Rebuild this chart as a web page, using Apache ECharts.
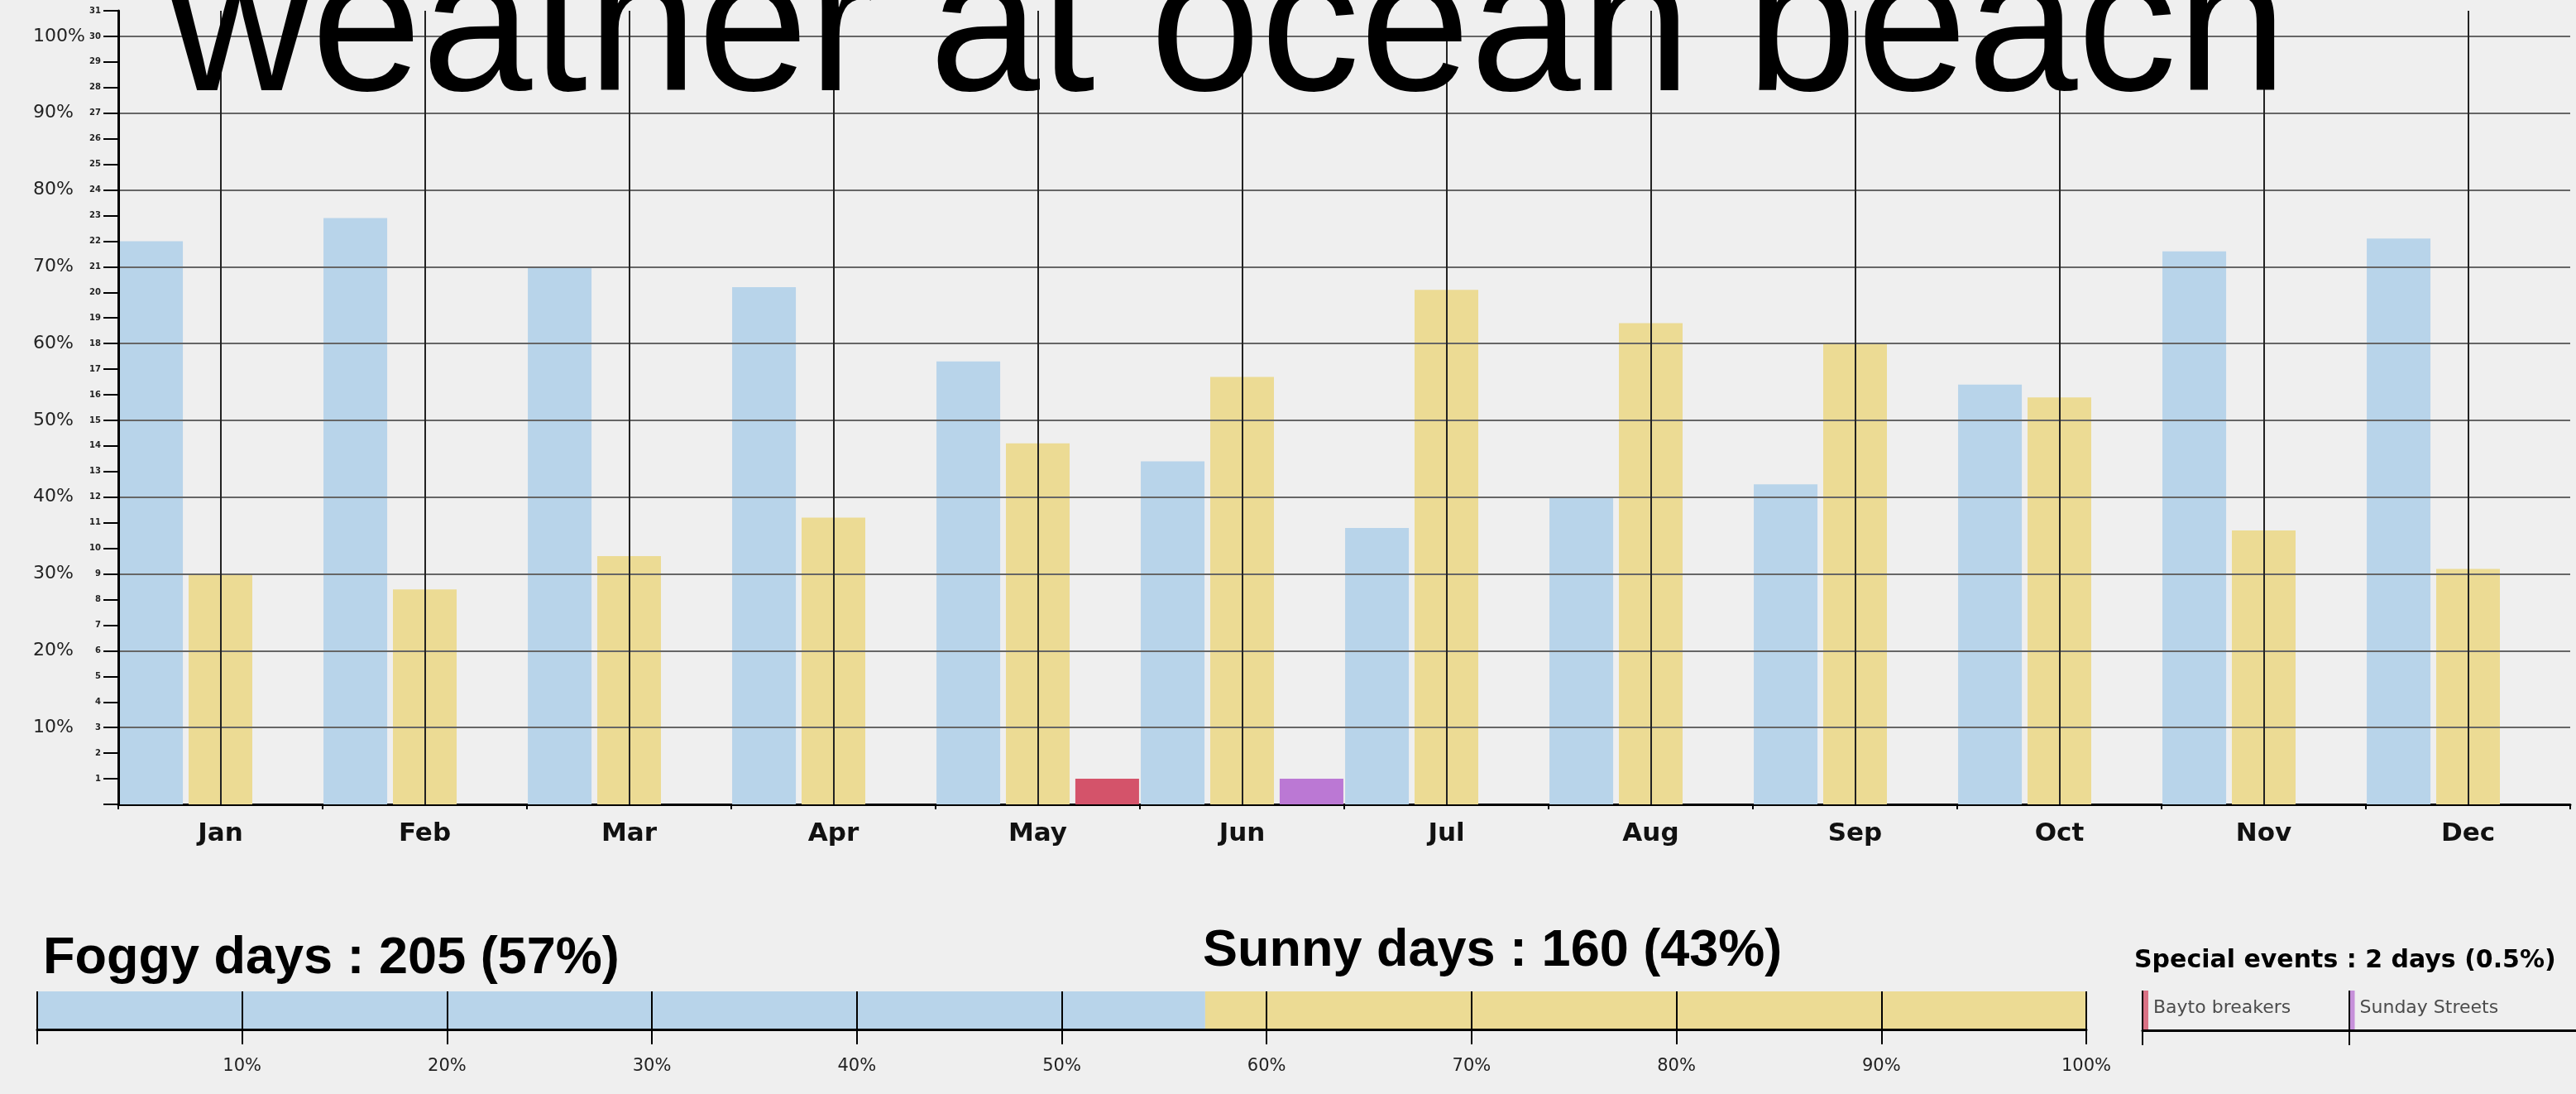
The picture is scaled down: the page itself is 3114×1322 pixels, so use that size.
<!DOCTYPE html>
<html><head><meta charset="utf-8">
<script src="https://cdn.jsdelivr.net/npm/echarts@6/dist/echarts.min.js"></script>
<style>html,body{margin:0;padding:0;background:#efefef}#c{width:3114px;height:1322px}</style>
</head><body><div id="c"></div>
<script>
// ---- data ----
const titleText = 'weather at ocean beach';
const months = ['Jan','Feb','Mar','Apr','May','Jun','Jul','Aug','Sep','Oct','Nov','Dec'];
const foggyDays = [22, 22.9, 21, 20.2, 17.3, 13.4, 10.8, 12, 12.5, 16.4, 21.6, 22.1];
const sunnyDays = [9, 8.4, 9.7, 11.2, 14.1, 16.7, 20.1, 18.8, 18, 15.9, 10.7, 9.2];
const eventNames = ['Bayto breakers', 'Sunday Streets'];
const eventMonths = ['May', 'Jun'];
const eventDays = [1, 1];
const daysMax = 31;          // top of the day scale
const daysPerHundred = 30;   // 30 days = 100%
const summaryNames = ['Foggy days', 'Sunny days'];
const summaryDays = [205, 160];
const summaryPct = [57, 43];
const specialTotalDays = 2;
const specialPct = 0.5;

// ---- styles ----
const BLUE = '#b8d4ea', YELLOW = '#ecdb94';
const EVENT_COLORS = ['#d4536a', '#bb78d4'];
const SANS = '"Liberation Sans", Arial, sans-serif';
const DJ = '"DejaVu Sans", Verdana, sans-serif';

const specialData = months.map(m => {
  const i = eventMonths.indexOf(m);
  return i < 0 ? null : { value: eventDays[i], itemStyle: { color: EVENT_COLORS[i] } };
});

const chart = echarts.init(document.getElementById('c'), null, { renderer: 'canvas' });
chart.setOption({
  backgroundColor: '#efefef',
  animation: false,
  title: {
    text: titleText, left: 203, top: -77, padding: 0,
    textStyle: { fontFamily: SANS, fontSize: 240, fontWeight: 'normal', color: '#000' }
  },
  graphic: [
    { type: 'text', left: 52, top: 1127, style: { text: summaryNames[0] + ' : ' + summaryDays[0] + ' (' + summaryPct[0] + '%)', font: 'bold 63px ' + SANS, fill: '#000' } },
    { type: 'text', left: 1454, top: 1118, style: { text: summaryNames[1] + ' : ' + summaryDays[1] + ' (' + summaryPct[1] + '%)', font: 'bold 63px ' + SANS, fill: '#000' } },
    { type: 'text', left: 2580, top: 1146, style: { text: 'Special events : ' + specialTotalDays + ' days (' + specialPct + '%)', font: 'bold 30px ' + DJ, fill: '#000' } }
  ],
  grid: [
    { left: 143, right: 7, top: 13, bottom: 350 },
    { left: 45, width: 2477, top: 1198, height: 46 },
    { left: 2590, right: 0, top: 1197, height: 48 }
  ],
  xAxis: [
    { type: 'category', data: months, gridIndex: 0,
      axisLine: { lineStyle: { color: '#000', width: 3 } },
      axisTick: { show: true, length: 6, lineStyle: { color: '#000', width: 2 } },
      axisLabel: { fontFamily: DJ, fontWeight: 'bold', fontSize: 31, color: '#111', margin: 20 },
      splitLine: { show: false } },
    { type: 'value', gridIndex: 1, min: 0, max: 100, interval: 10, z: 3,
      axisLine: { show: true, lineStyle: { color: '#000', width: 3 } },
      axisTick: { show: true, length: 18, lineStyle: { color: '#000', width: 2 } },
      axisLabel: { fontFamily: DJ, fontSize: 21, color: '#222', margin: 34,
        formatter: v => v === 0 ? '' : v + '%' },
      splitLine: { show: true, lineStyle: { color: '#000', width: 2 } } },
    { type: 'value', gridIndex: 2, min: 0, max: 2.1, interval: 1, z: 3,
      axisLine: { show: true, lineStyle: { color: '#000', width: 3 } },
      axisTick: { show: true, length: 18, customValues: [0, 1], lineStyle: { color: '#000', width: 2 } },
      axisLabel: { show: false }, splitLine: { show: false } }
  ],
  yAxis: [
    { type: 'value', gridIndex: 0, min: 0, max: daysMax, interval: 1, position: 'left', z: 3,
      axisLine: { show: true, lineStyle: { color: '#000', width: 3 } },
      axisTick: { show: true, length: 18, lineStyle: { color: '#000', width: 2 } },
      axisLabel: { fontFamily: DJ, fontWeight: 'bold', fontSize: 10, color: '#222', margin: 21,
        formatter: v => v === 0 ? '' : String(v) },
      splitLine: { show: false } },
    { type: 'value', gridIndex: 0, min: 0, max: daysMax, interval: 3, position: 'left', z: 3,
      axisLine: { show: false }, axisTick: { show: false },
      axisLabel: { fontFamily: DJ, fontSize: 22, color: '#222', align: 'left', margin: 103,
        formatter: v => (v > 0 && v % 3 === 0 && v <= daysPerHundred) ? Math.round(v / daysPerHundred * 100) + '%' : '' },
      splitLine: { show: true, showMinLine: false, showMaxLine: false, lineStyle: { color: '#666', width: 2 } } },
    { type: 'category', gridIndex: 1, data: ['all'], show: false },
    { type: 'value', gridIndex: 2, min: 0, max: 1, show: false }
  ],
  series: [
    { name: 'Foggy', type: 'bar', xAxisIndex: 0, yAxisIndex: 0, data: foggyDays,
      barWidth: 77, barGap: '9%', itemStyle: { color: BLUE } },
    { name: 'Sunny', type: 'bar', xAxisIndex: 0, yAxisIndex: 0, data: sunnyDays,
      barWidth: 77, barGap: '9%', itemStyle: { color: YELLOW },
      markLine: { silent: true, symbol: ['none', 'none'], label: { show: false },
        lineStyle: { color: '#222', width: 2, type: 'solid' },
        data: months.map(m => ({ xAxis: m })) } },
    { name: 'Special', type: 'bar', xAxisIndex: 0, yAxisIndex: 0, data: specialData,
      barWidth: 77, barGap: '9%' },
    { name: summaryNames[0], type: 'bar', stack: 'tot', xAxisIndex: 1, yAxisIndex: 2,
      data: [summaryPct[0]], barWidth: '100%', itemStyle: { color: BLUE } },
    { name: summaryNames[1], type: 'bar', stack: 'tot', xAxisIndex: 1, yAxisIndex: 2,
      data: [summaryPct[1]], barWidth: '100%', itemStyle: { color: YELLOW } },
    { name: 'Events', type: 'scatter', xAxisIndex: 2, yAxisIndex: 3,
      symbol: 'rect', symbolSize: [7, 48], symbolOffset: [3.5, 0],
      data: eventNames.map((n, i) => ({ name: n, value: [i, 0.5], itemStyle: { color: EVENT_COLORS[i] } })),
      label: { show: true, position: 'right', distance: 6, formatter: '{b}',
        fontFamily: DJ, fontSize: 22, color: '#222', offset: [0, -3] },
      markLine: { silent: true, symbol: ['none', 'none'], label: { show: false },
        lineStyle: { color: '#000', width: 2, type: 'solid' },
        data: eventNames.map((n, i) => ({ xAxis: i })) } }
  ]
});
</script></body></html>
